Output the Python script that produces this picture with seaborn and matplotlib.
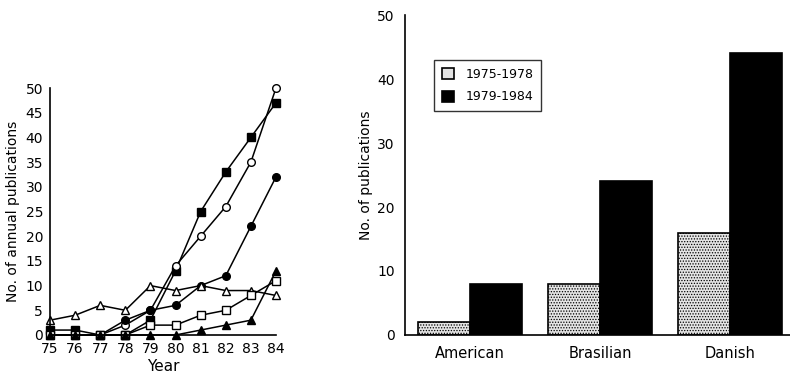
import numpy as np
import pandas as pd
import matplotlib
matplotlib.use("Agg")
import matplotlib.pyplot as plt
import seaborn as sns

# left panel: annual publications per series
years = [75, 76, 77, 78, 79, 80, 81, 82, 83, 84]
filled_square = [1, 1, 0, 0, 3, 13, 25, 33, 40, 47]
open_circle = [0, 0, 0, 2, 5, 14, 20, 26, 35, 50]
filled_circle = [0, 0, 0, 3, 5, 6, 10, 12, 22, 32]
open_triangle = [3, 4, 6, 5, 10, 9, 10, 9, 9, 8]
open_square = [0, 0, 0, 0, 2, 2, 4, 5, 8, 11]
filled_triangle = [0, 0, 0, 0, 0, 0, 1, 2, 3, 13]

# right panel: publications per group and period
groups = ["American", "Brasilian", "Danish"]
periods = ["1975-1978", "1979-1984"]
early = [2, 8, 16]
late = [8, 24, 44]

sns.set_style("white")
plt.rcParams["font.family"] = ["DejaVu Sans"]
plt.rcParams["hatch.linewidth"] = 0.6
plt.rcParams["text.color"] = "black"
plt.rcParams["axes.labelcolor"] = "black"
plt.rcParams["xtick.color"] = "black"
plt.rcParams["ytick.color"] = "black"

fig = plt.figure(figsize=(7.9, 3.78), dpi=100)

# ---- left: line chart
ax1 = fig.add_axes([50 / 790, 43 / 378, 226 / 790, 247 / 378])
series = [
    (filled_square, "s", "black"),
    (open_circle, "o", "white"),
    (filled_circle, "o", "black"),
    (open_triangle, "^", "white"),
    (open_square, "s", "white"),
    (filled_triangle, "^", "black"),
]
for vals, mk, fc in series:
    sns.lineplot(x=years, y=vals, ax=ax1, color="black", linewidth=1.1,
                 marker=mk, markersize=5.5, markerfacecolor=fc,
                 markeredgecolor="black", markeredgewidth=1.0, clip_on=False)
ax1.set_xlim(75, 84)
ax1.set_ylim(0, 50)
ax1.set_xticks(years)
ax1.set_yticks(range(0, 51, 5))
ax1.tick_params(direction="inout", length=6, width=1, labelsize=10, pad=2)
ax1.set_xlabel("Year", fontsize=11, labelpad=2)
ax1.set_ylabel("No. of annual publications", fontsize=10, labelpad=4)
sns.despine(ax=ax1)
for s in ["left", "bottom"]:
    ax1.spines[s].set_linewidth(1.2)
    ax1.spines[s].set_color("black")

# ---- right: grouped bars
df = pd.DataFrame({
    "group": groups * 2,
    "period": [periods[0]] * 3 + [periods[1]] * 3,
    "count": early + late,
})
ax2 = fig.add_axes([405 / 790, 43 / 378, 390 / 790, 320 / 378])
sns.barplot(data=df, x="group", y="count", hue="period", ax=ax2,
            palette=["#e4e4e4", "black"], edgecolor="black", linewidth=1.2,
            width=0.8, saturation=1, errorbar=None)
for p in ax2.containers[0]:
    p.set_hatch("......")
ax2.set_xlim(-0.5, 2.5)
ax2.set_ylim(0, 50)
ax2.set_yticks(range(0, 51, 10))
ax2.set_xticks([0.5, 1.5], minor=True)
ax2.tick_params(axis="x", which="major", length=0, labelsize=10.5, pad=8)
ax2.tick_params(axis="x", which="minor", direction="inout", length=7, width=1)
ax2.tick_params(axis="y", direction="inout", length=7, width=1, labelsize=10, pad=4)
ax2.set_xlabel("")
ax2.set_ylabel("No. of publications", fontsize=10, labelpad=3)
sns.despine(ax=ax2)
for s in ["left", "bottom"]:
    ax2.spines[s].set_linewidth(1.2)
    ax2.spines[s].set_color("black")

leg = ax2.legend(loc="upper left", bbox_to_anchor=(434 / 790, 1 - 60 / 378),
                 bbox_transform=fig.transFigure, frameon=True, fancybox=False,
                 edgecolor="black", fontsize=9, handlelength=1.0,
                 handleheight=1.0, borderpad=0.6, labelspacing=0.8,
                 handletextpad=0.9, borderaxespad=0)
leg.get_frame().set_linewidth(1.0)

fig.savefig("out.png", dpi=100)
